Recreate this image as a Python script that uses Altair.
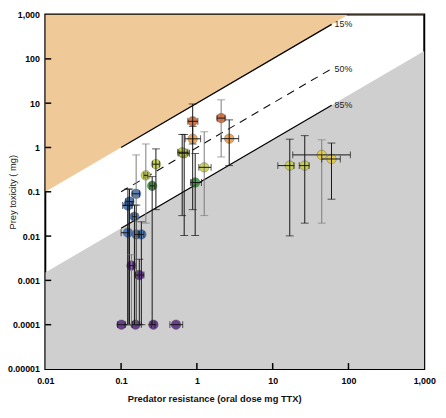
import altair as alt
import pandas as pd

# ---------------- data ----------------
x_tick_values = [0.01, 0.1, 1, 10, 100, 1000]
x_tick_labels = ["0.01", "0.1", "1", "10", "100", "1,000"]
y_tick_values = [0.00001, 0.0001, 0.001, 0.01, 0.1, 1, 10, 100, 1000]
y_tick_labels = ["0.00001", "0.0001", "0.001", "0.01", "0.1", "1", "10", "100", "1,000"]

# boundary lines: prey toxicity = ratio * predator resistance
line_names = ["15%", "50%", "85%"]
line_ratios = [10, 1, 0.15]
line_x_start = [0.1, 0.1, 0.1]
line_x_end = [60, 60, 60]
line_dash = ["solid", "dashed", "solid"]

# points
pt_x = [0.88, 0.88, 2.09, 2.67, 0.68, 0.64, 1.25, 0.95, 0.288, 0.212, 0.257,
        0.158, 0.129, 0.123, 0.150, 0.123, 0.159, 0.185,
        0.137, 0.174, 0.101, 0.155, 0.267, 0.53,
        16.8, 26.5, 44.4, 59.7]
pt_y = [3.9, 1.57, 4.6, 1.58, 0.74, 0.78, 0.356, 0.162, 0.42, 0.235, 0.136,
        0.09, 0.06, 0.049, 0.0274, 0.0119, 0.0109, 0.0109,
        0.00215, 0.00132, 0.0001, 0.0001, 0.0001, 0.0001,
        0.39, 0.39, 0.68, 0.55]
pt_group = ["red", "orange", "red", "orange", "olive", "yellowgreen", "yellowgreen", "green",
            "yellowgreen", "yellowgreen", "green",
            "blue", "blue", "blue", "blue", "blue", "blue", "blue",
            "purple", "purple", "purple", "purple", "purple", "purple",
            "yellowgreen", "yellowgreen", "yellow", "yellow"]
y_lo = [1.2, 0.0395, 0.61, 0.39, 0.0103, 0.029, 0.029, 0.0103, 0.0395, 0.0196, 0.0001,
        0.0001, 0.0001, 0.0001, 0.0001, 0.0001, 0.0001, 0.0001,
        0.0001, 0.0001, None, None, None, None,
        0.0101, 0.0196, 0.0196, 0.068]
y_hi = [9.6, 3.0, 11.9, 4.2, 1.97, 1.97, 2.26, 0.73, 0.93, 1.2, 0.22,
        0.68, 0.115, 0.115, 0.05, 0.05, 0.05, 0.021,
        0.0038, 0.003, None, None, None, None,
        1.54, 1.85, 1.49, 1.26]
x_lo = [0.76, 0.70, 1.85, 2.09, 0.58, 0.56, 1.06, 0.83, 0.26, 0.20, 0.24,
        0.14, 0.115, 0.105, 0.14, 0.10, 0.15, 0.17,
        0.13, 0.155, 0.09, 0.14, 0.25, 0.44,
        11.7, 22.4, 18.4, 44.4]
x_hi = [1.03, 1.12, 2.35, 3.56, 0.80, 0.76, 1.54, 1.15, 0.32, 0.225, 0.275,
        0.175, 0.145, 0.14, 0.16, 0.128, 0.175, 0.20,
        0.145, 0.20, 0.113, 0.185, 0.28, 0.65,
        19.1, 30.2, 106, 78]
bar_kind = ["dark", "dark", "light", "dark", "dark", "dark", "light", "dark", "dark", "light", "dark",
            "light", "dark", "dark", "dark", "dark", "dark", "dark",
            "light", "dark", "dark", "dark", "dark", "dark",
            "dark", "dark", "light", "dark"]

group_names = ["red", "orange", "olive", "yellowgreen", "yellow", "green", "blue", "purple"]
group_colors = ["#D4612C", "#E99A45", "#A9A52E", "#C5CF45", "#E4CC3F", "#3E8F3E", "#3F6DAF", "#5C2D84"]

# ---------------- tables ----------------
W, H = 386, 361
FONT = "Liberation Sans"

pts = pd.DataFrame({"x": pt_x, "y": pt_y, "group": pt_group, "ylo": y_lo, "yhi": y_hi,
                    "xlo": x_lo, "xhi": x_hi, "kind": bar_kind})
vbars = pts.dropna(subset=["ylo", "yhi"])
vcaps = pd.concat([vbars[["x", "kind"]].assign(y=vbars["ylo"]),
                   vbars[["x", "kind"]].assign(y=vbars["yhi"])])
hcaps = pd.concat([pts[["y", "kind"]].assign(x=pts["xlo"]),
                   pts[["y", "kind"]].assign(x=pts["xhi"])])

xmin, xmax = x_tick_values[0], x_tick_values[-1]
ymin, ymax = y_tick_values[0], y_tick_values[-1]
orange_area = pd.DataFrame({"x": [xmin, xmax],
                            "y": [line_ratios[0] * xmin, line_ratios[0] * xmax],
                            "y2": [ymax, ymax]})
grey_area = pd.DataFrame({"x": [xmin, xmax],
                          "y": [line_ratios[2] * xmin, line_ratios[2] * xmax],
                          "y2": [ymin, ymin]})
lines_rows = []
for n, r, a, b, d in zip(line_names, line_ratios, line_x_start, line_x_end, line_dash):
    lines_rows.append({"name": n, "x": a, "y": r * a, "dash": d, "order": 0})
    lines_rows.append({"name": n, "x": b, "y": r * b, "dash": d, "order": 1})
lines_df = pd.DataFrame(lines_rows)
labels_df = lines_df[lines_df["order"] == 1]

xticks_df = pd.DataFrame({"v": x_tick_values[1:-1]})
yticks_df = pd.DataFrame({"v": y_tick_values[1:-1]})


def label_expr(vals, labs):
    e = "''"
    for v, l in zip(vals, labs):
        e = f"datum.value == {v!r} ? '{l}' : ({e})"
    return e


x_scale = alt.Scale(type="log", domain=[xmin, xmax], nice=False)
y_scale = alt.Scale(type="log", domain=[ymin, ymax], nice=False)

x_axis = alt.Axis(values=x_tick_values, labelExpr=label_expr(x_tick_values, x_tick_labels),
                  ticks=False, domain=False, grid=False, labelFont=FONT, labelFontSize=9,
                  labelFontWeight="bold", labelColor="black", labelPadding=8,
                  labelFlush=False, labelOverlap=False, labelBound=False,
                  title="Predator resistance (oral dose mg TTX)", titleFont=FONT,
                  titleFontSize=9.5, titleFontWeight="bold", titleColor="#111",
                  titleX=172, titleY=30, titleAlign="center", titleBaseline="middle")
y_axis = alt.Axis(values=y_tick_values, labelExpr=label_expr(y_tick_values, y_tick_labels),
                  ticks=False, domain=False, grid=False, labelFont=FONT, labelFontSize=9,
                  labelFontWeight="bold", labelColor="black", labelPadding=6,
                  labelFlush=False, labelOverlap=False, labelBound=False,
                  title="Prey toxicity ( mg)", titleFont=FONT, titleFontSize=9.5,
                  titleFontWeight="normal", titleColor="#222",
                  titleX=-33, titleY=H / 2, titleAlign="center", titleBaseline="middle",
                  titleAngle=270)


def X(f):
    return alt.X(f, type="quantitative", scale=x_scale, axis=x_axis)


def Y(f):
    return alt.Y(f, type="quantitative", scale=y_scale, axis=y_axis)


orange = alt.Chart(orange_area).mark_area(clip=True, color="#F0C998", opacity=1).encode(
    x=X("x"), y=Y("y"), y2="y2")
grey = alt.Chart(grey_area).mark_area(clip=True, color="#CFCFCF", opacity=1).encode(
    x=X("x"), y=Y("y"), y2="y2")

solid_lines = alt.Chart(lines_df[lines_df["dash"] == "solid"]).mark_line(
    color="black", strokeWidth=1.3).encode(
    x=X("x"), y=Y("y"), detail="name:N", order="order:Q")
dashed_lines = alt.Chart(lines_df[lines_df["dash"] == "dashed"]).mark_line(
    color="#111", strokeWidth=1.1, strokeDash=[8, 6]).encode(
    x=X("x"), y=Y("y"), detail="name:N", order="order:Q")
line_labels = alt.Chart(labels_df).mark_text(align="left", baseline="middle", dx=3,
                                              font=FONT, fontSize=9, color="#222").encode(
    x=X("x"), y=Y("y"), text="name:N")

color_scale = alt.Scale(domain=group_names, range=group_colors)
points = alt.Chart(pts).mark_circle(size=95, opacity=0.88, stroke="#333",
                                    strokeWidth=0.6, strokeOpacity=0.6).encode(
    x=X("x"), y=Y("y"), color=alt.Color("group:N", scale=color_scale, legend=None))

kind_colors = {"dark": "#151515", "light": "#7a7a7a"}
bar_layers = []
for k, c in kind_colors.items():
    vb = vbars[vbars["kind"] == k]
    vc = vcaps[vcaps["kind"] == k]
    bar_layers.append(alt.Chart(vb).mark_rule(strokeWidth=1, color=c).encode(
        x=X("x"), y=Y("ylo"), y2="yhi"))
    bar_layers.append(alt.Chart(vc).mark_tick(orient="horizontal", size=8, thickness=1,
                                              color=c).encode(x=X("x"), y=Y("y")))
hrules = alt.Chart(pts).mark_rule(strokeWidth=1, color="#151515").encode(
    x=X("xlo"), x2="xhi", y=Y("y"))
hcap = alt.Chart(hcaps).mark_tick(orient="vertical", size=7, thickness=1, color="#151515").encode(
    x=X("x"), y=Y("y"))

xticks = alt.Chart(xticks_df).mark_rule(color="black", strokeWidth=1.5).encode(
    x=X("v"), y=alt.value(H), y2=alt.value(H - 6))
yticks = alt.Chart(yticks_df).mark_rule(color="black", strokeWidth=1.5).encode(
    y=Y("v"), x=alt.value(0), x2=alt.value(6))

chart = alt.layer(orange, grey, solid_lines, dashed_lines, line_labels, points,
                  *bar_layers, hrules, hcap, xticks, yticks).properties(
    width=W, height=H,
    autosize=alt.AutoSizeParams(type="none"),
    padding={"left": 38, "top": 3, "right": 14, "bottom": 34},
    background="white",
).configure_view(stroke="black", strokeWidth=2)

chart.save("out.html", embed_options={"renderer": "svg", "actions": False})
